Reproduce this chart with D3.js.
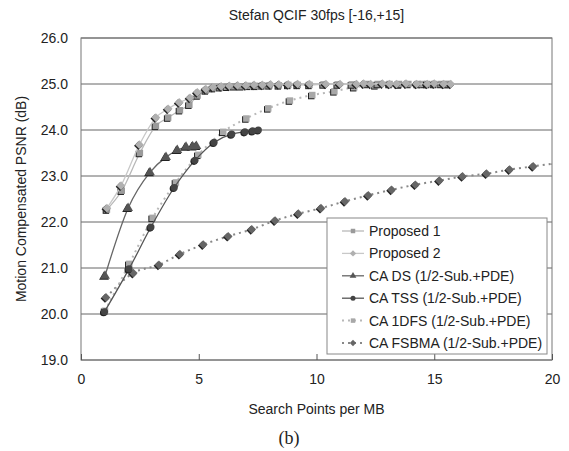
<!DOCTYPE html>
<html lang="en">
<head>
    <script src='https://d3js.org/d3.v7.min.js'></script>
    <style>
        body { margin: 0; background: #fff; }
        text { font-family: "Liberation Sans", Arial, sans-serif; fill: #222; }
    </style>
</head>
<body>
<script>

    // data
    const p1X = [1.1, 1.73, 2.5, 3.18, 3.7, 4.2, 4.6, 4.95, 5.3, 5.6, 5.9, 6.2, 6.5, 6.8, 7.1, 7.4, 7.7, 8.0, 8.4, 8.8, 9.2, 9.7, 10.3, 10.9, 11.5, 12.1, 12.6, 13.1, 13.5, 13.9, 14.3, 14.7, 15.0, 15.3, 15.6];
    const p1Y = [22.27, 22.68, 23.5, 24.09, 24.27, 24.43, 24.55, 24.75, 24.86, 24.91, 24.93, 24.94, 24.95, 24.95, 24.96, 24.96, 24.97, 24.97, 24.97, 24.98, 24.98, 24.98, 24.99, 24.99, 24.99, 25.0, 25.0, 25.0, 25.0, 25.0, 25.0, 25.0, 25.0, 25.0, 25.0];

    const p2X = [1.1, 1.7, 2.48, 3.18, 3.7, 4.17, 4.63, 4.94, 5.3, 5.6, 5.95, 6.3, 6.65, 7.0, 7.35, 7.7, 8.05, 8.4, 8.8, 9.2, 9.7, 10.4, 11.0, 11.7, 12.0, 12.3, 12.8, 13.1, 13.4, 13.8, 14.25, 14.7, 15.0, 15.4, 15.7];
    const p2Y = [22.3, 22.79, 23.68, 24.27, 24.46, 24.6, 24.7, 24.82, 24.89, 24.93, 24.95, 24.96, 24.97, 24.97, 24.98, 24.98, 24.99, 24.99, 24.99, 25.0, 25.0, 25.0, 25.0, 25.0, 25.01, 25.0, 25.01, 25.0, 25.0, 25.01, 25.0, 25.0, 25.01, 25.0, 25.0];

    const dsX = [1.02, 2.0, 2.93, 3.61, 4.09, 4.46, 4.74, 4.9];
    const dsY = [20.83, 22.3, 23.08, 23.41, 23.56, 23.63, 23.64, 23.65];

    const tssX = [1.0, 2.04, 2.97, 3.96, 4.84, 5.65, 6.4, 6.96, 7.29, 7.53];
    const tssY = [20.05, 20.98, 21.89, 22.75, 23.34, 23.73, 23.91, 23.96, 23.98, 24.0];

    const dfsX = [1.02, 2.05, 3.04, 4.03, 4.98, 6.04, 7.02, 7.95, 8.87, 9.82, 10.76, 11.6, 12.5, 13.5, 14.5, 15.5];
    const dfsY = [20.07, 21.09, 22.09, 22.86, 23.46, 23.96, 24.25, 24.47, 24.64, 24.76, 24.84, 24.93, 24.97, 24.99, 25.0, 25.0];

    const fsX = [1.06, 2.22, 3.31, 4.2, 5.19, 6.25, 7.25, 8.24, 9.23, 10.19, 11.21, 12.2, 13.19, 14.2, 15.22, 16.2, 17.22, 18.2, 19.2, 20.2];
    const fsY = [20.36, 20.89, 21.07, 21.3, 21.51, 21.69, 21.84, 22.03, 22.18, 22.3, 22.45, 22.58, 22.7, 22.81, 22.9, 22.99, 23.05, 23.14, 23.21, 23.28];

    const xTicks = [0, 5, 10, 15, 20];
    const yTicks = [19, 20, 21, 22, 23, 24, 25, 26];

    const names = ["Proposed 1", "Proposed 2", "CA DS (1/2-Sub.+PDE)", "CA TSS (1/2-Sub.+PDE)", "CA 1DFS (1/2-Sub.+PDE)", "CA FSBMA (1/2-Sub.+PDE)"];

    // diamonds are squares turned 45 degrees
    const series = [
        { xs: p1X, ys: p1Y, line: "#b8b8b8", fill: "#9a9a9a", sym: d3.symbolSquare, rot: 0, dash: null },
        { xs: p2X, ys: p2Y, line: "#c8c8c8", fill: "#b0b0b0", sym: d3.symbolSquare, rot: 45, dash: null },
        { xs: dsX, ys: dsY, line: "#666", fill: "#555", sym: d3.symbolTriangle, rot: 0, dash: null },
        { xs: tssX, ys: tssY, line: "#555", fill: "#444", sym: d3.symbolCircle, rot: 0, dash: null },
        { xs: dfsX, ys: dfsY, line: "#b8b8b8", fill: "#a8a8a8", sym: d3.symbolSquare, rot: 0, dash: "2,4" },
        { xs: fsX, ys: fsY, line: "#888", fill: "#666", sym: d3.symbolSquare, rot: 45, dash: "2,4" }
    ];

    const width = 569, height = 451;
    const mLeft = 81, mRight = 552, mTop = 38, mBottom = 360;

    const svg = d3.select("body").append("svg")
        .attr("width", width)
        .attr("height", height);

    const x = d3.scaleLinear().domain([0, 20]).range([mLeft, mRight]);
    const y = d3.scaleLinear().domain([19, 26]).range([mBottom, mTop]);

    svg.append("defs").append("clipPath").attr("id", "clip")
        .append("rect")
        .attr("x", mLeft).attr("y", mTop)
        .attr("width", mRight - mLeft).attr("height", mBottom - mTop);

    // grid lines
    svg.append("g")
        .selectAll("line")
        .data(yTicks)
        .enter()
        .append("line")
        .attr("x1", mLeft).attr("x2", mRight)
        .attr("y1", d => y(d)).attr("y2", d => y(d))
        .attr("stroke", "#666")
        .attr("stroke-width", 1);

    svg.append("rect")
        .attr("x", mLeft).attr("y", mTop)
        .attr("width", mRight - mLeft).attr("height", mBottom - mTop)
        .attr("fill", "none")
        .attr("stroke", "#777");

    // x axis, ticks point inward
    const xAxis = d3.axisBottom(x).tickValues(xTicks).tickSize(-6).tickPadding(14).tickFormat(d3.format("d"));
    const gx = svg.append("g")
        .attr("transform", "translate(0," + mBottom + ")")
        .call(xAxis);
    gx.select(".domain").remove();
    gx.selectAll("line").attr("stroke", "#555");
    gx.selectAll("text").attr("font-size", 14).attr("fill", "#222")
        .attr("font-family", "Liberation Sans, Arial, sans-serif");

    const yAxis = d3.axisLeft(y).tickValues(yTicks).tickSize(0).tickPadding(13).tickFormat(d3.format(".1f"));
    const gy = svg.append("g")
        .attr("transform", "translate(" + mLeft + ",0)")
        .call(yAxis);
    gy.select(".domain").remove();
    gy.selectAll("text").attr("font-size", 14).attr("fill", "#222")
        .attr("font-family", "Liberation Sans, Arial, sans-serif");

    const plot = svg.append("g").attr("clip-path", "url(#clip)");

    const line = d3.line()
        .x(d => x(d[0]))
        .y(d => y(d[1]))
        .curve(d3.curveMonotoneX);

    // draw back to front so proposed curves sit on top
    const order = [5, 4, 3, 2, 0, 1];
    order.forEach(function (i) {
        const s = series[i];
        const pts = d3.zip(s.xs, s.ys);
        plot.append("path")
            .datum(pts)
            .attr("d", line)
            .attr("fill", "none")
            .attr("stroke", s.line)
            .attr("stroke-width", s.dash ? 2 : 1.3)
            .attr("stroke-dasharray", s.dash);

        const sym = d3.symbol().type(s.sym).size(s.sym === d3.symbolCircle ? 40 : (s.rot ? 38 : 42));
        const mk = plot.append("g");
        mk.selectAll(".sh")
            .data(pts)
            .enter()
            .append("path")
            .attr("d", sym)
            .attr("transform", d => "translate(" + (x(d[0]) - 1) + "," + (y(d[1]) + 1) + ") rotate(" + s.rot + ")")
            .attr("fill", "#222");
        mk.selectAll(".m")
            .data(pts)
            .enter()
            .append("path")
            .attr("d", sym)
            .attr("transform", d => "translate(" + x(d[0]) + "," + y(d[1]) + ") rotate(" + s.rot + ")")
            .attr("fill", s.fill);
    });

    // legend
    const lg = svg.append("g");
    lg.append("rect")
        .attr("x", 327).attr("y", 218)
        .attr("width", 220).attr("height", 136)
        .attr("fill", "#fff")
        .attr("stroke", "#888");

    names.forEach(function (n, i) {
        const s = series[i];
        const ly = 231 + i * 22.4;
        lg.append("line")
            .attr("x1", 342).attr("x2", 364)
            .attr("y1", ly).attr("y2", ly)
            .attr("stroke", s.line)
            .attr("stroke-width", s.dash ? 2 : 1.3)
            .attr("stroke-dasharray", s.dash);
        lg.append("path")
            .attr("d", d3.symbol().type(s.sym).size(20))
            .attr("transform", "translate(353," + ly + ") rotate(" + s.rot + ")")
            .attr("fill", s.fill);
        lg.append("text")
            .attr("x", 369).attr("y", ly)
            .attr("dy", ".35em")
            .attr("font-size", 14)
            .text(n);
    });

    // titles
    svg.append("text")
        .attr("x", (mLeft + mRight) / 2).attr("y", 15)
        .attr("dy", ".35em")
        .attr("text-anchor", "middle")
        .attr("font-size", 14)
        .text("Stefan QCIF 30fps [-16,+15]");

    svg.append("text")
        .attr("x", (mLeft + mRight) / 2).attr("y", 409)
        .attr("dy", ".35em")
        .attr("text-anchor", "middle")
        .attr("font-size", 14)
        .text("Search Points per MB");

    svg.append("text")
        .attr("transform", "translate(21," + (mTop + mBottom) / 2 + ") rotate(-90)")
        .attr("dy", ".35em")
        .attr("text-anchor", "middle")
        .attr("font-size", 14)
        .text("Motion Compensated PSNR (dB)");

    svg.append("text")
        .attr("x", 289).attr("y", 438)
        .attr("dy", ".35em")
        .attr("text-anchor", "middle")
        .attr("font-size", 18)
        .style("font-family", "Liberation Serif, Times New Roman, serif")
        .text("(b)");

</script>
</body>
</html>
